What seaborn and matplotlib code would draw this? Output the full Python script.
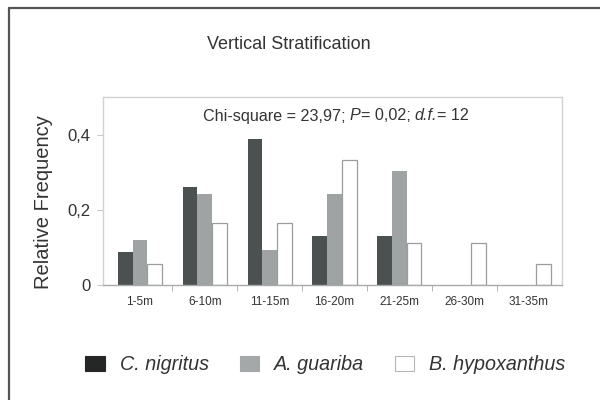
import matplotlib
matplotlib.use("Agg")
import matplotlib.pyplot as plt
from matplotlib.lines import Line2D
from matplotlib.patches import Patch
import seaborn as sns
import pandas as pd
import numpy as np

categories = ["1-5m", "6-10m", "11-15m", "16-20m", "21-25m", "26-30m", "31-35m"]
species = ["C. nigritus", "A. guariba", "B. hypoxanthus"]
c_nigritus = [0.087, 0.26, 0.389, 0.131, 0.131, 0.0, 0.0]
a_guariba = [0.119, 0.242, 0.092, 0.242, 0.302, 0.0, 0.0]
b_hypoxanthus = [0.056, 0.164, 0.164, 0.333, 0.113, 0.113, 0.056]
yticks = [0, 0.2, 0.4]
ytick_labels = ["0", "0,2", "0,4"]
stat_pieces = [("Chi-square = 23,97; ", "normal"), ("P", "italic"), ("= 0,02; ", "normal"),
               ("d.f.", "italic"), ("= 12", "normal")]

rows = []
for sp, vals in zip(species, [c_nigritus, a_guariba, b_hypoxanthus]):
    for cat, v in zip(categories, vals):
        rows.append({"cat": cat, "species": sp, "value": v})
df = pd.DataFrame(rows)

bar_colors = ["#4b5050", "#a0a3a4", "#ffffff"]
legend_colors = ["#252727", "#a5a8a9", "#ffffff"]
txt = "#333333"

sns.set_style("white")
plt.rcParams["font.family"] = ["Liberation Sans", "DejaVu Sans"]

fig = plt.figure(figsize=(6, 4), dpi=100)
ax = fig.add_axes([0.1717, 0.2875, 0.765, 0.47])

sns.barplot(data=df, x="cat", y="value", hue="species", order=categories,
            hue_order=species, palette=bar_colors, width=0.68, ax=ax,
            legend=False, saturation=1, errorbar=None)

for p in ax.patches:
    fc = p.get_facecolor()
    if p.get_height() <= 0:
        p.set_linewidth(0)
    elif fc[0] > 0.95:
        p.set_edgecolor("#9a9d9e")
        p.set_linewidth(0.9)
    else:
        p.set_linewidth(0)

ax.set_xlim(-0.57, 6.51)
ax.set_ylim(0, 0.5)
ax.set_yticks(yticks)
ax.set_yticklabels(ytick_labels, fontsize=12, color=txt)
ax.set_xticks(range(len(categories)))
ax.set_xticklabels(categories, fontsize=8.5, color=txt)
ax.set_xticks(np.arange(0.5, 6.0, 1.0), minor=True)
ax.tick_params(axis="x", which="major", length=0, pad=8)
ax.tick_params(axis="x", which="minor", length=4, width=0.6, color="#aaaaaa", direction="out", bottom=True)
ax.tick_params(axis="y", length=4, width=0.6, color="#bbbbbb", direction="out", left=True, pad=5)
ax.set_xlabel("")
ax.set_ylabel("Relative Frequency", fontsize=14.5, color=txt)
ax.yaxis.set_label_coords(-0.11, 0.44)

for s in ["left", "top", "right"]:
    ax.spines[s].set_color("#d0d2d2")
    ax.spines[s].set_linewidth(1.0)
ax.spines["bottom"].set_color("#a8aaaa")
ax.spines["bottom"].set_linewidth(1.0)

# statistics line, built from consecutive text pieces
renderer = fig.canvas.get_renderer()
stat_size = 11.6
widths = []
tmp = []
for s, st in stat_pieces:
    t = fig.text(0, 0, s, fontsize=stat_size, style=st)
    widths.append(t.get_window_extent(renderer).width)
    tmp.append(t)
for t in tmp:
    t.remove()
total = sum(widths)
x0 = 336 - total / 2.0
y_disp = 400 - 116
for (s, st), w in zip(stat_pieces, widths):
    fig.text(x0 / 600.0, y_disp / 400.0, s, fontsize=stat_size, style=st, color=txt,
             ha="left", va="center")
    x0 += w

fig.text(0.482, 0.888, "Vertical Stratification", fontsize=13, color=txt,
         ha="center", va="center")

handles = [Patch(facecolor=c, edgecolor=("#b5b7b7" if c == "#ffffff" else c), linewidth=0.8)
           for c in legend_colors]
leg = fig.legend(handles, species, loc="center", bbox_to_anchor=(0.5425, 0.0875), ncol=3,
                 frameon=False, prop={"style": "italic", "size": 14.2},
                 handlelength=1.0, handleheight=0.8, columnspacing=1.55, handletextpad=0.75)
for t in leg.get_texts():
    t.set_color(txt)

fig.add_artist(Line2D([0.015, 0.015], [0, 0.98], transform=fig.transFigure,
                      color="#555555", linewidth=1.6))
fig.add_artist(Line2D([0.015, 1.0], [0.98, 0.98], transform=fig.transFigure,
                      color="#555555", linewidth=1.6))

fig.savefig("out.png", dpi=100)
